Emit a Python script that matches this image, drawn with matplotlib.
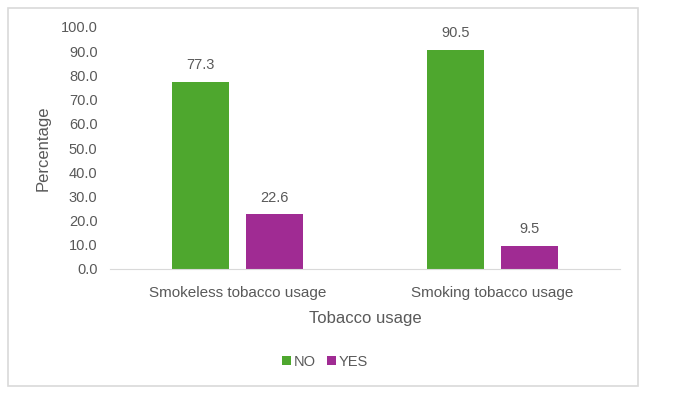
import matplotlib
matplotlib.use("Agg")
import matplotlib.pyplot as plt
import numpy as np
from matplotlib.patches import Rectangle

categories = ["Smokeless tobacco usage", "Smoking tobacco usage"]
no_vals = [77.3, 90.5]
yes_vals = [22.6, 9.5]
series_names = ["NO", "YES"]

green = "#4EA72E"
purple = "#A02B93"
grey = "#595959"

plt.rcParams['font.family'] = ['Liberation Sans', 'DejaVu Sans']

fig = plt.figure(figsize=(6.82, 3.93), dpi=100)
fig.patches.append(Rectangle((8/682, 1 - 386/393), 630/682, 378/393,
                             transform=fig.transFigure, fill=False,
                             edgecolor="#D9D9D9", linewidth=1.2))
ax = fig.add_axes([110/682, 1 - 269/393, 510/682, 242/393])

x = np.arange(len(categories))
w = 0.224
off = 0.1435
b1 = ax.bar(x - off, no_vals, w, color=green, label=series_names[0])
b2 = ax.bar(x + off, yes_vals, w, color=purple, label=series_names[1])

for bars, vals in [(b1, no_vals), (b2, yes_vals)]:
    for b, v in zip(bars, vals):
        ax.text(b.get_x() + b.get_width()/2, v + 4, f"{v:.1f}",
                ha="center", va="bottom", fontsize=10.5, color=grey)

ax.set_xlim(-0.5, 1.5)
ax.set_ylim(0, 100)
ax.set_yticks(np.arange(0, 101, 10))
ax.set_yticklabels([f"{t:.1f}" for t in np.arange(0, 101, 10)])
ax.set_xticks(x)
ax.set_xticklabels(categories)
ax.tick_params(axis="both", length=0, labelsize=10.5, labelcolor=grey)
ax.tick_params(axis="x", labelsize=11, pad=12)
ax.tick_params(axis="y", pad=9)
for s in ["top", "right", "left"]:
    ax.spines[s].set_visible(False)
ax.spines["bottom"].set_color("#D9D9D9")
ax.set_ylabel("Percentage", fontsize=12, color=grey, labelpad=7)
ax.set_xlabel("Tobacco usage", fontsize=12, color=grey, labelpad=8)

ax.legend(loc="center", bbox_to_anchor=(325/682, 1 - 362/393),
          bbox_transform=fig.transFigure, ncol=2, frameon=False,
          fontsize=10.5, labelcolor=grey, handlelength=0.6, handleheight=0.6,
          handletextpad=0.2, columnspacing=0.8)

fig.savefig("out.png", dpi=100)
